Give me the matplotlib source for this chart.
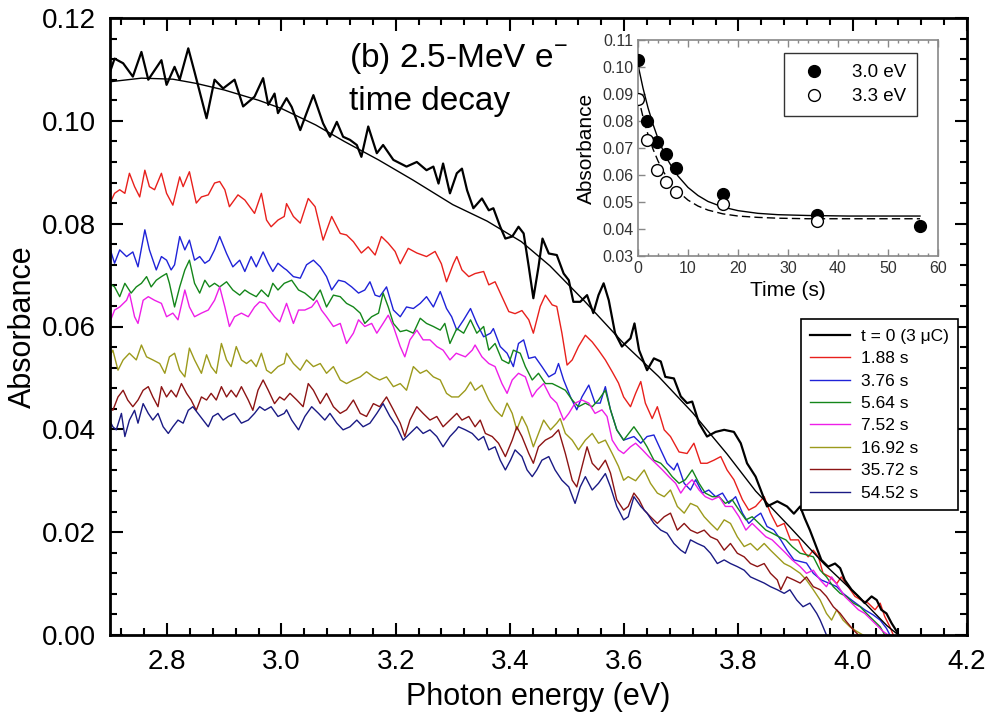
import matplotlib
matplotlib.use("Agg")
import matplotlib.pyplot as plt
from matplotlib.ticker import MultipleLocator, FormatStrFormatter
import numpy as np

plt.rcParams['font.family'] = ['Liberation Sans', 'DejaVu Sans']
plt.rcParams['mathtext.fontset'] = 'custom'
plt.rcParams['mathtext.rm'] = 'Liberation Sans'

# absorption spectra (photon energy in eV, absorbance) after the pulse
spec_t0 = [
    (2.700, 0.1095), (2.708, 0.1121), (2.723, 0.1112), (2.740, 0.1086), (2.755, 0.1134),
    (2.767, 0.1080), (2.790, 0.1118), (2.799, 0.1070), (2.813, 0.1105), (2.822, 0.1080),
    (2.837, 0.1141), (2.848, 0.1095), (2.869, 0.1005), (2.883, 0.1080), (2.898, 0.1063),
    (2.918, 0.1080), (2.933, 0.1028), (2.953, 0.1047), (2.968, 0.1083), (2.977, 0.1031),
    (2.988, 0.1053), (2.994, 0.1015), (3.009, 0.1044), (3.018, 0.1027), (3.033, 0.0982),
    (3.044, 0.1015), (3.056, 0.1050), (3.073, 0.0995), (3.085, 0.0969), (3.097, 0.0998),
    (3.108, 0.0969), (3.120, 0.0963), (3.132, 0.0953), (3.140, 0.0930), (3.152, 0.0989),
    (3.167, 0.0937), (3.178, 0.0953), (3.196, 0.0924), (3.219, 0.0911), (3.237, 0.0920),
    (3.254, 0.0904), (3.266, 0.0911), (3.275, 0.0878), (3.283, 0.0917), (3.295, 0.0859),
    (3.307, 0.0898), (3.316, 0.0907), (3.325, 0.0865), (3.336, 0.0830), (3.351, 0.0849),
    (3.363, 0.0826), (3.371, 0.0830), (3.383, 0.0794), (3.392, 0.0771), (3.404, 0.0775),
    (3.415, 0.0794), (3.424, 0.0781), (3.433, 0.0716), (3.441, 0.0655), (3.450, 0.0716),
    (3.457, 0.0771), (3.468, 0.0742), (3.482, 0.0739), (3.494, 0.0703), (3.503, 0.0690),
    (3.511, 0.0648), (3.523, 0.0648), (3.535, 0.0661), (3.546, 0.0626), (3.555, 0.0661),
    (3.564, 0.0684), (3.573, 0.0651), (3.584, 0.0587), (3.596, 0.0561), (3.611, 0.0577),
    (3.618, 0.0606), (3.626, 0.0554), (3.640, 0.0515), (3.652, 0.0538), (3.664, 0.0532),
    (3.672, 0.0502), (3.687, 0.0499), (3.699, 0.0464), (3.710, 0.0451), (3.719, 0.0454),
    (3.731, 0.0412), (3.745, 0.0386), (3.760, 0.0395), (3.775, 0.0399), (3.792, 0.0395),
    (3.804, 0.0373), (3.815, 0.0334), (3.830, 0.0308), (3.839, 0.0282), (3.850, 0.0250),
    (3.868, 0.0260), (3.885, 0.0250), (3.897, 0.0236), (3.908, 0.0250), (3.916, 0.0227),
    (3.925, 0.0204), (3.934, 0.0178), (3.945, 0.0146), (3.957, 0.0133), (3.969, 0.0139),
    (3.978, 0.0130), (3.986, 0.0107), (3.998, 0.0088), (4.010, 0.0075), (4.021, 0.0062),
    (4.033, 0.0075), (4.042, 0.0068), (4.050, 0.0049), (4.059, 0.0042), (4.068, 0.0023),
    (4.077, 0.0007), (4.080, 0.0000),
]

spec_188 = [
    (2.700, 0.0840), (2.708, 0.0859), (2.717, 0.0866), (2.726, 0.0859), (2.734, 0.0898),
    (2.743, 0.0872), (2.752, 0.0852), (2.761, 0.0904), (2.769, 0.0872), (2.778, 0.0866),
    (2.790, 0.0898), (2.799, 0.0859), (2.810, 0.0836), (2.822, 0.0891), (2.828, 0.0872),
    (2.839, 0.0901), (2.851, 0.0840), (2.860, 0.0852), (2.872, 0.0856), (2.883, 0.0879),
    (2.892, 0.0882), (2.901, 0.0866), (2.909, 0.0833), (2.924, 0.0856), (2.936, 0.0846),
    (2.953, 0.0820), (2.965, 0.0859), (2.974, 0.0807), (2.982, 0.0794), (2.994, 0.0807),
    (3.005, 0.0814), (3.009, 0.0839), (3.021, 0.0814), (3.033, 0.0801), (3.047, 0.0849),
    (3.059, 0.0833), (3.073, 0.0768), (3.088, 0.0814), (3.103, 0.0781), (3.114, 0.0778),
    (3.126, 0.0765), (3.140, 0.0743), (3.152, 0.0755), (3.164, 0.0739), (3.175, 0.0775),
    (3.187, 0.0762), (3.199, 0.0746), (3.208, 0.0722), (3.222, 0.0752), (3.237, 0.0743),
    (3.254, 0.0736), (3.269, 0.0746), (3.280, 0.0722), (3.289, 0.0687), (3.301, 0.0722),
    (3.307, 0.0736), (3.316, 0.0710), (3.328, 0.0697), (3.339, 0.0703), (3.354, 0.0707),
    (3.363, 0.0681), (3.374, 0.0687), (3.386, 0.0658), (3.398, 0.0629), (3.409, 0.0625),
    (3.421, 0.0631), (3.433, 0.0613), (3.441, 0.0587), (3.453, 0.0639), (3.462, 0.0661),
    (3.474, 0.0642), (3.482, 0.0639), (3.491, 0.0587), (3.500, 0.0525), (3.509, 0.0535),
    (3.520, 0.0561), (3.532, 0.0583), (3.544, 0.0570), (3.555, 0.0554), (3.567, 0.0535),
    (3.579, 0.0512), (3.590, 0.0490), (3.599, 0.0463), (3.611, 0.0444), (3.620, 0.0470),
    (3.629, 0.0493), (3.637, 0.0451), (3.649, 0.0421), (3.658, 0.0444), (3.670, 0.0399),
    (3.681, 0.0386), (3.696, 0.0356), (3.710, 0.0353), (3.722, 0.0373), (3.734, 0.0334),
    (3.745, 0.0334), (3.757, 0.0340), (3.769, 0.0347), (3.780, 0.0321), (3.792, 0.0302),
    (3.807, 0.0263), (3.818, 0.0243), (3.830, 0.0250), (3.845, 0.0269), (3.856, 0.0237),
    (3.868, 0.0211), (3.880, 0.0217), (3.891, 0.0185), (3.905, 0.0185), (3.913, 0.0165),
    (3.922, 0.0152), (3.931, 0.0165), (3.940, 0.0152), (3.948, 0.0120), (3.960, 0.0113),
    (3.972, 0.0100), (3.980, 0.0113), (3.992, 0.0094), (4.004, 0.0075), (4.015, 0.0068),
    (4.027, 0.0062), (4.039, 0.0049), (4.048, 0.0062), (4.056, 0.0036), (4.065, 0.0016),
    (4.071, 0.0000),
]

spec_376 = [
    (2.699, 0.0755), (2.708, 0.0723), (2.717, 0.0749), (2.729, 0.0736), (2.740, 0.0745),
    (2.749, 0.0716), (2.761, 0.0788), (2.769, 0.0749), (2.781, 0.0710), (2.790, 0.0736),
    (2.799, 0.0729), (2.807, 0.0710), (2.813, 0.0720), (2.822, 0.0775), (2.831, 0.0749),
    (2.839, 0.0768), (2.848, 0.0729), (2.857, 0.0736), (2.866, 0.0723), (2.874, 0.0729),
    (2.883, 0.0749), (2.892, 0.0775), (2.904, 0.0742), (2.915, 0.0716), (2.927, 0.0729),
    (2.936, 0.0707), (2.947, 0.0736), (2.956, 0.0716), (2.968, 0.0745), (2.977, 0.0723),
    (2.985, 0.0707), (2.994, 0.0723), (3.005, 0.0713), (3.009, 0.0710), (3.021, 0.0697),
    (3.033, 0.0694), (3.044, 0.0720), (3.056, 0.0729), (3.068, 0.0716), (3.079, 0.0697),
    (3.088, 0.0671), (3.100, 0.0690), (3.111, 0.0687), (3.123, 0.0677), (3.135, 0.0665),
    (3.146, 0.0671), (3.155, 0.0687), (3.164, 0.0661), (3.172, 0.0658), (3.184, 0.0677),
    (3.196, 0.0632), (3.208, 0.0619), (3.219, 0.0638), (3.231, 0.0635), (3.243, 0.0645),
    (3.254, 0.0658), (3.266, 0.0638), (3.278, 0.0668), (3.289, 0.0635), (3.298, 0.0619),
    (3.307, 0.0593), (3.319, 0.0613), (3.331, 0.0635), (3.342, 0.0606), (3.354, 0.0580),
    (3.366, 0.0587), (3.371, 0.0596), (3.383, 0.0561), (3.395, 0.0548), (3.406, 0.0522),
    (3.415, 0.0567), (3.424, 0.0574), (3.433, 0.0538), (3.444, 0.0541), (3.456, 0.0522),
    (3.468, 0.0502), (3.479, 0.0509), (3.485, 0.0528), (3.494, 0.0496), (3.506, 0.0463),
    (3.517, 0.0438), (3.526, 0.0463), (3.538, 0.0486), (3.549, 0.0451), (3.558, 0.0451),
    (3.567, 0.0483), (3.576, 0.0438), (3.587, 0.0399), (3.599, 0.0379), (3.617, 0.0386),
    (3.629, 0.0373), (3.640, 0.0386), (3.652, 0.0389), (3.664, 0.0360), (3.675, 0.0334),
    (3.687, 0.0321), (3.693, 0.0334), (3.705, 0.0295), (3.716, 0.0282), (3.725, 0.0302),
    (3.737, 0.0276), (3.748, 0.0282), (3.760, 0.0269), (3.772, 0.0276), (3.783, 0.0256),
    (3.795, 0.0269), (3.807, 0.0237), (3.818, 0.0217), (3.830, 0.0230), (3.839, 0.0237),
    (3.850, 0.0211), (3.862, 0.0204), (3.874, 0.0185), (3.885, 0.0165), (3.897, 0.0146),
    (3.919, 0.0140), (3.931, 0.0120), (3.945, 0.0107), (3.960, 0.0100), (3.972, 0.0094),
    (3.983, 0.0081), (3.998, 0.0068), (4.010, 0.0058), (4.021, 0.0049), (4.036, 0.0039),
    (4.048, 0.0029), (4.059, 0.0013), (4.065, 0.0000),
]

spec_564 = [
    (2.699, 0.0684), (2.708, 0.0677), (2.717, 0.0658), (2.726, 0.0684), (2.737, 0.0665),
    (2.746, 0.0677), (2.755, 0.0684), (2.764, 0.0697), (2.772, 0.0677), (2.781, 0.0690),
    (2.790, 0.0697), (2.799, 0.0703), (2.804, 0.0684), (2.813, 0.0638), (2.822, 0.0677),
    (2.831, 0.0710), (2.839, 0.0729), (2.848, 0.0684), (2.857, 0.0665), (2.866, 0.0690),
    (2.874, 0.0677), (2.883, 0.0684), (2.892, 0.0677), (2.904, 0.0687), (2.915, 0.0671),
    (2.927, 0.0661), (2.936, 0.0671), (2.944, 0.0665), (2.956, 0.0658), (2.965, 0.0671),
    (2.977, 0.0658), (2.985, 0.0684), (2.994, 0.0671), (3.005, 0.0684), (3.018, 0.0690),
    (3.030, 0.0671), (3.041, 0.0665), (3.056, 0.0651), (3.068, 0.0671), (3.079, 0.0638),
    (3.091, 0.0661), (3.103, 0.0658), (3.114, 0.0645), (3.126, 0.0638), (3.138, 0.0626),
    (3.146, 0.0606), (3.158, 0.0619), (3.170, 0.0626), (3.178, 0.0665), (3.187, 0.0638),
    (3.196, 0.0606), (3.208, 0.0590), (3.219, 0.0593), (3.231, 0.0587), (3.243, 0.0616),
    (3.254, 0.0606), (3.266, 0.0600), (3.278, 0.0593), (3.286, 0.0606), (3.295, 0.0567),
    (3.307, 0.0596), (3.319, 0.0587), (3.331, 0.0613), (3.342, 0.0587), (3.354, 0.0600),
    (3.363, 0.0554), (3.374, 0.0567), (3.386, 0.0535), (3.398, 0.0528), (3.406, 0.0554),
    (3.418, 0.0548), (3.427, 0.0522), (3.439, 0.0496), (3.450, 0.0509), (3.462, 0.0489),
    (3.474, 0.0489), (3.485, 0.0483), (3.497, 0.0476), (3.509, 0.0457), (3.520, 0.0444),
    (3.532, 0.0451), (3.544, 0.0444), (3.555, 0.0457), (3.567, 0.0476), (3.576, 0.0438),
    (3.587, 0.0399), (3.599, 0.0379), (3.608, 0.0392), (3.617, 0.0405), (3.629, 0.0386),
    (3.640, 0.0366), (3.652, 0.0340), (3.664, 0.0334), (3.675, 0.0321), (3.684, 0.0308),
    (3.696, 0.0295), (3.707, 0.0302), (3.719, 0.0321), (3.731, 0.0295), (3.742, 0.0276),
    (3.754, 0.0269), (3.766, 0.0269), (3.777, 0.0256), (3.789, 0.0263), (3.801, 0.0243),
    (3.813, 0.0224), (3.824, 0.0230), (3.836, 0.0217), (3.848, 0.0204), (3.859, 0.0198),
    (3.871, 0.0191), (3.883, 0.0185), (3.894, 0.0172), (3.908, 0.0159), (3.919, 0.0156),
    (3.931, 0.0152), (3.943, 0.0126), (3.954, 0.0113), (3.966, 0.0094), (3.978, 0.0081),
    (3.989, 0.0075), (4.001, 0.0062), (4.013, 0.0055), (4.024, 0.0042), (4.036, 0.0029),
    (4.048, 0.0016), (4.056, 0.0000),
]

spec_752 = [
    (2.699, 0.0606), (2.708, 0.0632), (2.717, 0.0638), (2.729, 0.0651), (2.734, 0.0665),
    (2.743, 0.0619), (2.749, 0.0606), (2.758, 0.0651), (2.767, 0.0658), (2.778, 0.0651),
    (2.790, 0.0645), (2.799, 0.0619), (2.810, 0.0626), (2.819, 0.0613), (2.831, 0.0671),
    (2.839, 0.0638), (2.848, 0.0619), (2.860, 0.0626), (2.872, 0.0632), (2.883, 0.0651),
    (2.892, 0.0677), (2.901, 0.0638), (2.909, 0.0600), (2.918, 0.0619), (2.930, 0.0626),
    (2.942, 0.0619), (2.953, 0.0638), (2.962, 0.0648), (2.971, 0.0645), (2.979, 0.0632),
    (2.988, 0.0619), (2.997, 0.0609), (3.009, 0.0645), (3.021, 0.0606), (3.030, 0.0632),
    (3.041, 0.0632), (3.053, 0.0638), (3.062, 0.0651), (3.070, 0.0632), (3.079, 0.0619),
    (3.091, 0.0600), (3.103, 0.0606), (3.114, 0.0567), (3.126, 0.0587), (3.135, 0.0613),
    (3.146, 0.0600), (3.158, 0.0606), (3.167, 0.0587), (3.178, 0.0606), (3.187, 0.0622),
    (3.196, 0.0600), (3.208, 0.0561), (3.216, 0.0541), (3.225, 0.0574), (3.237, 0.0593),
    (3.248, 0.0574), (3.260, 0.0574), (3.272, 0.0561), (3.283, 0.0554), (3.295, 0.0535),
    (3.306, 0.0548), (3.322, 0.0541), (3.334, 0.0554), (3.339, 0.0564), (3.351, 0.0541),
    (3.363, 0.0528), (3.374, 0.0522), (3.386, 0.0489), (3.395, 0.0470), (3.404, 0.0496),
    (3.415, 0.0509), (3.427, 0.0502), (3.439, 0.0463), (3.447, 0.0476), (3.459, 0.0489),
    (3.471, 0.0463), (3.482, 0.0451), (3.494, 0.0418), (3.503, 0.0431), (3.514, 0.0451),
    (3.526, 0.0457), (3.538, 0.0451), (3.549, 0.0431), (3.561, 0.0438), (3.570, 0.0425),
    (3.579, 0.0379), (3.590, 0.0360), (3.599, 0.0353), (3.611, 0.0366), (3.620, 0.0373),
    (3.632, 0.0360), (3.643, 0.0347), (3.655, 0.0334), (3.667, 0.0321), (3.678, 0.0308),
    (3.690, 0.0295), (3.699, 0.0276), (3.707, 0.0289), (3.719, 0.0302), (3.731, 0.0282),
    (3.742, 0.0269), (3.754, 0.0263), (3.766, 0.0269), (3.777, 0.0250), (3.789, 0.0250),
    (3.801, 0.0230), (3.813, 0.0204), (3.824, 0.0217), (3.836, 0.0204), (3.848, 0.0191),
    (3.859, 0.0185), (3.871, 0.0172), (3.883, 0.0159), (3.894, 0.0146), (3.908, 0.0133),
    (3.919, 0.0120), (3.931, 0.0126), (3.943, 0.0107), (3.954, 0.0094), (3.963, 0.0113),
    (3.975, 0.0094), (3.986, 0.0075), (3.998, 0.0062), (4.010, 0.0049), (4.021, 0.0042),
    (4.033, 0.0029), (4.045, 0.0016), (4.053, 0.0007), (4.062, 0.0000),
]

spec_1692 = [
    (2.699, 0.0541), (2.705, 0.0554), (2.714, 0.0515), (2.723, 0.0535), (2.734, 0.0548),
    (2.746, 0.0535), (2.755, 0.0564), (2.764, 0.0541), (2.775, 0.0535), (2.787, 0.0528),
    (2.796, 0.0509), (2.804, 0.0541), (2.813, 0.0548), (2.822, 0.0515), (2.831, 0.0502),
    (2.839, 0.0558), (2.848, 0.0535), (2.860, 0.0509), (2.869, 0.0545), (2.877, 0.0522),
    (2.886, 0.0509), (2.895, 0.0567), (2.904, 0.0535), (2.912, 0.0522), (2.921, 0.0561),
    (2.930, 0.0535), (2.939, 0.0528), (2.947, 0.0535), (2.956, 0.0522), (2.965, 0.0548),
    (2.974, 0.0515), (2.982, 0.0509), (2.994, 0.0522), (3.005, 0.0528), (3.009, 0.0548),
    (3.021, 0.0528), (3.033, 0.0515), (3.044, 0.0535), (3.056, 0.0522), (3.068, 0.0528),
    (3.079, 0.0509), (3.091, 0.0522), (3.103, 0.0496), (3.114, 0.0489), (3.126, 0.0496),
    (3.138, 0.0502), (3.149, 0.0512), (3.161, 0.0502), (3.172, 0.0496), (3.184, 0.0502),
    (3.196, 0.0483), (3.208, 0.0489), (3.219, 0.0476), (3.231, 0.0522), (3.243, 0.0509),
    (3.254, 0.0515), (3.266, 0.0502), (3.278, 0.0496), (3.289, 0.0470), (3.298, 0.0463),
    (3.310, 0.0463), (3.322, 0.0476), (3.331, 0.0492), (3.339, 0.0476), (3.351, 0.0486),
    (3.363, 0.0457), (3.374, 0.0438), (3.386, 0.0425), (3.395, 0.0451), (3.404, 0.0431),
    (3.412, 0.0399), (3.421, 0.0425), (3.430, 0.0405), (3.441, 0.0366), (3.450, 0.0392),
    (3.459, 0.0418), (3.471, 0.0399), (3.482, 0.0412), (3.488, 0.0421), (3.497, 0.0392),
    (3.509, 0.0379), (3.520, 0.0360), (3.532, 0.0379), (3.544, 0.0392), (3.555, 0.0373),
    (3.567, 0.0379), (3.579, 0.0353), (3.590, 0.0328), (3.599, 0.0301), (3.607, 0.0308),
    (3.620, 0.0300), (3.635, 0.0321), (3.646, 0.0295), (3.658, 0.0276), (3.670, 0.0269),
    (3.681, 0.0282), (3.693, 0.0250), (3.705, 0.0237), (3.716, 0.0256), (3.728, 0.0250),
    (3.740, 0.0230), (3.751, 0.0217), (3.763, 0.0204), (3.775, 0.0224), (3.786, 0.0217),
    (3.798, 0.0191), (3.810, 0.0172), (3.821, 0.0178), (3.833, 0.0165), (3.845, 0.0178),
    (3.856, 0.0165), (3.868, 0.0152), (3.880, 0.0139), (3.891, 0.0133), (3.908, 0.0120),
    (3.919, 0.0107), (3.931, 0.0088), (3.943, 0.0068), (3.954, 0.0042), (3.963, 0.0029),
    (3.972, 0.0049), (3.983, 0.0029), (3.995, 0.0016), (4.007, 0.0007), (4.018, 0.0000),
]

spec_3572 = [
    (2.699, 0.0444), (2.705, 0.0437), (2.714, 0.0463), (2.723, 0.0476), (2.731, 0.0457),
    (2.740, 0.0444), (2.749, 0.0457), (2.758, 0.0476), (2.767, 0.0483), (2.775, 0.0463),
    (2.784, 0.0444), (2.790, 0.0483), (2.799, 0.0463), (2.807, 0.0476), (2.816, 0.0463),
    (2.825, 0.0489), (2.834, 0.0470), (2.842, 0.0457), (2.851, 0.0437), (2.860, 0.0463),
    (2.869, 0.0457), (2.877, 0.0470), (2.886, 0.0457), (2.895, 0.0483), (2.904, 0.0463),
    (2.912, 0.0476), (2.921, 0.0463), (2.930, 0.0483), (2.942, 0.0457), (2.950, 0.0437),
    (2.959, 0.0476), (2.968, 0.0496), (2.977, 0.0476), (2.988, 0.0450), (2.997, 0.0463),
    (3.005, 0.0457), (3.015, 0.0470), (3.027, 0.0457), (3.038, 0.0444), (3.047, 0.0489),
    (3.056, 0.0476), (3.068, 0.0450), (3.079, 0.0470), (3.091, 0.0444), (3.103, 0.0431),
    (3.114, 0.0438), (3.126, 0.0457), (3.138, 0.0431), (3.149, 0.0425), (3.161, 0.0450),
    (3.172, 0.0444), (3.184, 0.0463), (3.196, 0.0438), (3.208, 0.0412), (3.216, 0.0386),
    (3.225, 0.0418), (3.237, 0.0444), (3.248, 0.0431), (3.260, 0.0418), (3.272, 0.0425),
    (3.283, 0.0405), (3.295, 0.0418), (3.307, 0.0431), (3.316, 0.0418), (3.328, 0.0425),
    (3.339, 0.0405), (3.348, 0.0418), (3.357, 0.0392), (3.369, 0.0386), (3.380, 0.0373),
    (3.392, 0.0347), (3.404, 0.0379), (3.412, 0.0405), (3.421, 0.0386), (3.433, 0.0353),
    (3.441, 0.0334), (3.450, 0.0366), (3.462, 0.0379), (3.474, 0.0386), (3.485, 0.0399),
    (3.497, 0.0353), (3.509, 0.0301), (3.517, 0.0288), (3.526, 0.0327), (3.535, 0.0366),
    (3.544, 0.0334), (3.555, 0.0321), (3.567, 0.0340), (3.576, 0.0315), (3.587, 0.0263),
    (3.599, 0.0243), (3.607, 0.0250), (3.617, 0.0276), (3.626, 0.0263), (3.635, 0.0243),
    (3.646, 0.0230), (3.658, 0.0217), (3.670, 0.0230), (3.681, 0.0237), (3.693, 0.0204),
    (3.705, 0.0217), (3.716, 0.0204), (3.728, 0.0198), (3.740, 0.0204), (3.751, 0.0191),
    (3.763, 0.0185), (3.775, 0.0165), (3.786, 0.0178), (3.798, 0.0159), (3.810, 0.0152),
    (3.821, 0.0139), (3.833, 0.0133), (3.845, 0.0139), (3.856, 0.0120), (3.868, 0.0107),
    (3.874, 0.0088), (3.885, 0.0113), (3.897, 0.0107), (3.908, 0.0101), (3.919, 0.0113),
    (3.931, 0.0094), (3.943, 0.0088), (3.954, 0.0075), (3.966, 0.0055), (3.978, 0.0042),
    (3.989, 0.0026), (4.001, 0.0010), (4.010, 0.0000),
]

spec_5452 = [
    (2.699, 0.0418), (2.705, 0.0405), (2.711, 0.0399), (2.720, 0.0431), (2.726, 0.0386),
    (2.734, 0.0418), (2.743, 0.0437), (2.749, 0.0412), (2.758, 0.0450), (2.767, 0.0431),
    (2.775, 0.0418), (2.784, 0.0431), (2.793, 0.0405), (2.802, 0.0392), (2.810, 0.0405),
    (2.819, 0.0418), (2.828, 0.0412), (2.837, 0.0437), (2.845, 0.0444), (2.854, 0.0431),
    (2.863, 0.0418), (2.872, 0.0405), (2.880, 0.0425), (2.889, 0.0431), (2.898, 0.0418),
    (2.907, 0.0425), (2.918, 0.0431), (2.930, 0.0412), (2.942, 0.0418), (2.953, 0.0431),
    (2.962, 0.0444), (2.971, 0.0437), (2.982, 0.0444), (2.994, 0.0425), (3.005, 0.0431),
    (3.009, 0.0438), (3.018, 0.0418), (3.030, 0.0399), (3.041, 0.0425), (3.053, 0.0444),
    (3.065, 0.0431), (3.076, 0.0418), (3.085, 0.0431), (3.097, 0.0412), (3.108, 0.0399),
    (3.120, 0.0405), (3.132, 0.0418), (3.143, 0.0405), (3.155, 0.0412), (3.167, 0.0431),
    (3.178, 0.0450), (3.190, 0.0425), (3.202, 0.0405), (3.213, 0.0379), (3.225, 0.0392),
    (3.237, 0.0405), (3.248, 0.0392), (3.260, 0.0399), (3.272, 0.0386), (3.283, 0.0366),
    (3.295, 0.0386), (3.306, 0.0399), (3.310, 0.0405), (3.322, 0.0399), (3.334, 0.0392),
    (3.345, 0.0379), (3.354, 0.0386), (3.363, 0.0360), (3.374, 0.0366), (3.383, 0.0340),
    (3.392, 0.0321), (3.401, 0.0340), (3.409, 0.0360), (3.421, 0.0347), (3.430, 0.0321),
    (3.439, 0.0308), (3.447, 0.0321), (3.456, 0.0340), (3.468, 0.0347), (3.479, 0.0321),
    (3.491, 0.0301), (3.503, 0.0288), (3.514, 0.0256), (3.523, 0.0288), (3.532, 0.0308),
    (3.544, 0.0282), (3.555, 0.0295), (3.567, 0.0314), (3.576, 0.0288), (3.587, 0.0250),
    (3.599, 0.0224), (3.607, 0.0230), (3.617, 0.0269), (3.629, 0.0250), (3.640, 0.0237),
    (3.652, 0.0217), (3.664, 0.0204), (3.675, 0.0198), (3.687, 0.0178), (3.699, 0.0165),
    (3.707, 0.0159), (3.716, 0.0185), (3.728, 0.0178), (3.740, 0.0172), (3.751, 0.0159),
    (3.763, 0.0139), (3.775, 0.0146), (3.786, 0.0139), (3.798, 0.0133), (3.810, 0.0126),
    (3.821, 0.0113), (3.833, 0.0107), (3.845, 0.0101), (3.856, 0.0094), (3.868, 0.0088),
    (3.880, 0.0081), (3.890, 0.0088), (3.902, 0.0068), (3.913, 0.0055), (3.925, 0.0062),
    (3.937, 0.0042), (3.943, 0.0029), (3.948, 0.0016), (3.954, 0.0000),
]

# smooth band-shape fit through the t = 0 spectrum
fit_t0 = [
    (2.700, 0.1076), (2.755, 0.1083), (2.810, 0.1081), (2.850, 0.1073), (2.900, 0.1060),
    (2.960, 0.1040), (3.000, 0.1024), (3.060, 0.0992), (3.110, 0.0960), (3.170, 0.0924),
    (3.230, 0.0885), (3.300, 0.0837), (3.360, 0.0805), (3.420, 0.0765), (3.470, 0.0718),
    (3.530, 0.0650), (3.580, 0.0590), (3.600, 0.0566), (3.660, 0.0503), (3.720, 0.0432),
    (3.780, 0.0352), (3.830, 0.0280), (3.890, 0.0210), (3.950, 0.0138), (4.010, 0.0075),
    (4.060, 0.0018), (4.080, 0.0000),
]

spectra = [spec_t0, spec_188, spec_376, spec_564, spec_752, spec_1692, spec_3572, spec_5452]
labels = ['t = 0 (3 \u03bcC)', '1.88 s', '3.76 s', '5.64 s', '7.52 s',
          '16.92 s', '35.72 s', '54.52 s']
colors = ['black', '#e8201c', '#1f22d8', '#14861a', '#ee1ee8',
          '#9c9a1c', '#8c1414', '#1a1a84']

# decay of the band at two photon energies
t_30 = [0.0, 1.88, 3.76, 5.64, 7.52, 16.92, 35.72, 56.4]
a_30 = [0.1026, 0.0801, 0.0723, 0.0678, 0.0626, 0.0530, 0.0452, 0.0411]
t_33 = [0.0, 1.88, 3.76, 5.64, 7.52, 16.92, 35.72]
a_33 = [0.0881, 0.0730, 0.0619, 0.0575, 0.0538, 0.0493, 0.0430]

# exponential fits through the decay points
fit_30_t = [0, 1, 2, 3, 4, 5, 6, 7, 8, 10, 12, 14, 17, 20, 24, 28, 34, 42, 56.4]
fit_30_a = [0.1008, 0.0922, 0.0849, 0.0788, 0.0735, 0.0691, 0.0654, 0.0623, 0.0596,
            0.0554, 0.0524, 0.0502, 0.0481, 0.0468, 0.0458, 0.0453, 0.0450, 0.0448, 0.0448]
fit_33_t = [0, 1, 2, 3, 4, 5, 6, 7, 8, 10, 12, 14, 17, 20, 24, 28, 34, 42, 56.4]
fit_33_a = [0.0893, 0.0815, 0.0750, 0.0696, 0.0652, 0.0615, 0.0585, 0.0560, 0.0539,
            0.0507, 0.0485, 0.0470, 0.0456, 0.0448, 0.0443, 0.0440, 0.0438, 0.0438, 0.0438]

W, H = 989, 727
fig = plt.figure(figsize=(W / 100, H / 100), dpi=100)
ax = fig.add_axes([110 / W, 1 - 635 / H, 857 / W, 617 / H])

for spec, lab, col in zip(spectra, labels, colors):
    e, a = np.array(spec).T
    ax.plot(e, a, color=col, lw=1.6 if col == 'black' else 1.0, label=lab,
            zorder=3 if col == 'black' else 2)

fe, fa = np.array(fit_t0).T
ax.plot(fe, fa, color='black', lw=1.0, zorder=4)

ax.set_xlim(2.7, 4.2)
ax.set_ylim(0, 0.12)
ax.xaxis.set_major_locator(MultipleLocator(0.2))
ax.xaxis.set_minor_locator(MultipleLocator(0.04))
ax.yaxis.set_major_locator(MultipleLocator(0.02))
ax.yaxis.set_minor_locator(MultipleLocator(0.004))
ax.xaxis.set_major_formatter(FormatStrFormatter('%.1f'))
ax.yaxis.set_major_formatter(FormatStrFormatter('%.2f'))
ax.tick_params(which='both', direction='in', top=True, right=True, width=1.5,
               labelsize=20, pad=10)
ax.tick_params(which='major', length=9)
ax.tick_params(which='minor', length=5)
for sp in ax.spines.values():
    sp.set_linewidth(2)
ax.set_xlabel('Photon energy (eV)', fontsize=22, labelpad=5)
ax.set_ylabel('Absorbance', fontsize=22, labelpad=3)

fig.text(349 / W, 1 - 67 / H, r'(b) 2.5-MeV e$^{-}$', fontsize=24, va='baseline')
fig.text(349 / W, 1 - 110 / H, 'time decay', fontsize=24, va='baseline')

leg = ax.legend(loc='upper right', bbox_to_anchor=(958 / W, 1 - 319 / H),
                bbox_transform=fig.transFigure, fontsize=12.5, frameon=True,
                fancybox=False, edgecolor='black', framealpha=1,
                handlelength=2.3, handletextpad=0.6, labelspacing=0.42,
                borderpad=0.55, borderaxespad=0)
leg.get_frame().set_linewidth(1.2)

# inset: decay kinetics
ins = fig.add_axes([638 / W, 1 - 256 / H, 300 / W, 216 / H])
ins.plot(fit_30_t, fit_30_a, color='black', lw=1.0)
ins.plot(fit_33_t, fit_33_a, color='black', lw=1.0, ls=(0, (6, 3)))
ins.plot(t_30, a_30, 'o', color='black', ms=8.5, label='3.0 eV', zorder=5)
ins.plot(t_33, a_33, 'o', mfc='white', mec='black', mew=1.0, ms=8.5, label='3.3 eV', zorder=5)
ins.set_xlim(0, 60)
ins.set_ylim(0.03, 0.11)
ins.xaxis.set_major_locator(MultipleLocator(10))
ins.xaxis.set_minor_locator(MultipleLocator(2))
ins.yaxis.set_major_locator(MultipleLocator(0.01))
ins.yaxis.set_major_formatter(FormatStrFormatter('%.2f'))
ins.tick_params(which='both', direction='in', top=True, labelsize=11.5,
                colors='#888888', labelcolor='#333333', width=1)
ins.tick_params(which='major', length=5)
ins.tick_params(which='minor', length=2.5)
for sp in ins.spines.values():
    sp.set_color('#888888')
    sp.set_linewidth(1.2)
ins.set_xlabel('Time (s)', fontsize=15, labelpad=4)
ins.set_ylabel('Absorbance', fontsize=15, labelpad=4)
ileg = ins.legend(loc='upper right', bbox_to_anchor=(917 / W, 1 - 53 / H),
                  bbox_transform=fig.transFigure, fontsize=13.5, frameon=True,
                  fancybox=False, edgecolor='#333333', framealpha=1,
                  handletextpad=1.0, labelspacing=0.35, borderpad=0.6,
                  borderaxespad=0)
ileg.get_frame().set_linewidth(1.0)

fig.savefig('out.png', dpi=100)
